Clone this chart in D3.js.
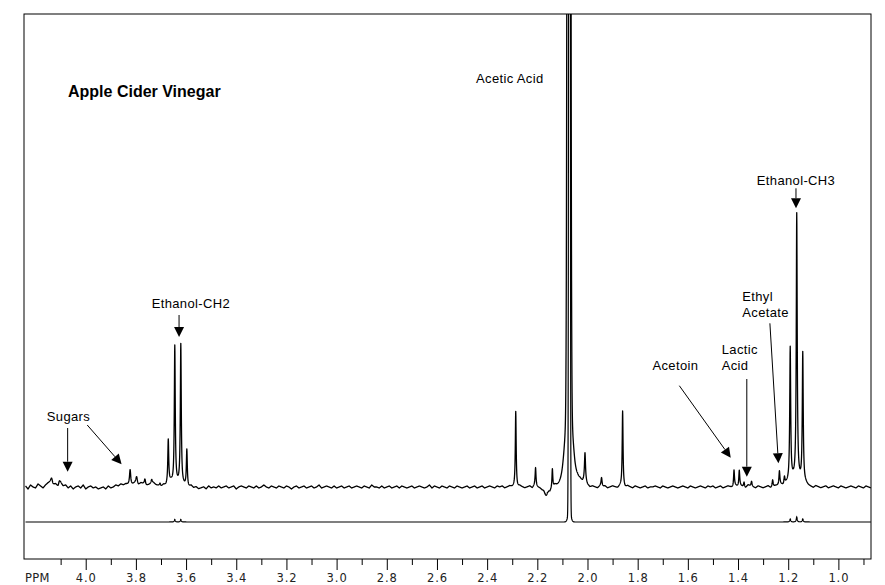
<!DOCTYPE html>
<html>
<head>
<meta charset="utf-8">
<script src="https://cdn.jsdelivr.net/npm/d3@7"></script>
<style>
  body { margin: 0; background: #fff; }
  text { font-family: "Liberation Sans", Arial, sans-serif; }
</style>
</head>
<body>
<div id="chart"></div>
<script>
// ---- data ----
// upper (vertically expanded) spectrum: peak position (ppm), height, half width (ppm), line shape
const peakPpm    = [4.136, 4.105, 3.823, 3.797, 3.764, 3.737, 3.704,
                    3.671, 3.645, 3.621, 3.597,
                    2.286, 2.207, 2.163, 2.140, 2.074, 2.074, 2.074, 2.010, 1.944, 1.860,
                    1.416, 1.395, 1.376, 1.346,
                    1.262, 1.235, 1.215,
                    1.192, 1.166, 1.142];
const peakHeight = [5, 4, 16, 6, 6, 4, 3,
                    44, 138, 141, 37,
                    76, 18, -9, 20, 4300, 80, 10, 28, 9, 76,
                    17, 16, 5, 5,
                    7, 14, 7,
                    133, 266, 129];
const peakWidth  = [0.004, 0.004, 0.003, 0.003, 0.003, 0.003, 0.003,
                    0.0022, 0.0022, 0.0022, 0.0022,
                    0.002, 0.002, 0.006, 0.002, 0.004, 0.014, 0.025, 0.0025, 0.0025, 0.002,
                    0.0022, 0.0022, 0.0022, 0.0022,
                    0.0022, 0.0022, 0.0022,
                    0.0022, 0.0022, 0.0022];
const peakShape  = ["L","L","L","L","L","L","L",
                    "L","L","L","L",
                    "L","L","G","L","G","G","G","L","L","L",
                    "L","L","L","L",
                    "L","L","L",
                    "L","L","L"];

// baseline wiggle of the upper spectrum, every 0.01 ppm from 4.24 down to 0.87
const noiseStart = 4.24;
const noiseStep = 0.01;
const baseNoise = [
  1,-2,2,0,-1,3,1,-1,2,4,     5,2,3,0,4,1,2,-1,1,-2,
  0,1,-1,2,-2,0,1,-1,0,-2,    -1,0,-2,1,-1,0,2,1,3,2,
  3,2,1,3,5,2,4,3,1,2,        3,4,2,1,0,2,1,3,5,2,
  3,2,1,1,0,-1,1,-1,0,-2,     -1,0,-2,1,-1,0,-1,1,-1,0,
  1,-1,0,1,-2,0,1,0,-1,1,     0,-1,1,-1,0,2,0,-1,1,0,
  -1,1,0,-1,1,0,-2,0,1,-1,    0,1,-1,0,1,-1,0,2,-1,0,
  1,0,-1,1,-1,0,1,-1,0,1,     -1,0,1,0,-1,1,0,-1,2,0,
  0,-1,1,-1,0,1,-1,0,1,-1,    1,0,-1,0,1,-1,0,1,0,-1,
  0,2,-1,1,0,-1,1,0,-1,1,     0,-1,1,0,-1,0,1,-1,0,1,
  -1,0,1,-1,0,1,0,-1,1,0,     1,-1,0,1,0,0,-1,1,0,-1,
  0,1,-1,2,0,-1,-3,-2,2,-4,   -2,2,1,1,0,0,0,0,0,1,
  6,7,5,6,2,0,1,0,-1,1,       0,1,-1,0,1,0,-1,1,0,-1,
  1,0,-1,1,0,-1,0,1,-1,0,     0,1,0,-1,1,0,-1,0,1,0,
  -1,0,1,0,-1,1,0,-1,0,1,     0,-1,1,0,1,-1,0,1,-1,0,
  1,0,-1,1,0,1,0,-1,2,1,      0,-1,1,0,-1,0,1,-1,0,1,
  1,2,1,3,4,6,7,6,7,5,        4,3,1,0,-1,1,0,-1,0,1,
  -1,0,1,0,-1,1,0,-1,0,1,     0,-1,1,0,-1,1,0,-1
];

// lower (full scale) spectrum
const lowerPpm    = [3.645, 3.621, 2.072, 2.072, 1.192, 1.166, 1.142];
const lowerHeight = [2.5, 2.5, 3000, 10, 3, 5, 3];
const lowerWidth  = [0.002, 0.002, 0.002, 0.006, 0.002, 0.002, 0.002];
const lowerShape  = ["L", "L", "G", "G", "L", "L", "L"];

// axis
const majorTicks = [4.0, 3.8, 3.6, 3.4, 3.2, 3.0, 2.8, 2.6, 2.4, 2.2, 2.0, 1.8, 1.6, 1.4, 1.2, 1.0];
const minorTicks = [4.1, 3.9, 3.7, 3.5, 3.3, 3.1, 2.9, 2.7, 2.5, 2.3, 2.1, 1.9, 1.7, 1.5, 1.3, 1.1, 0.9];

// ---- layout ----
const W = 885, H = 585;
const frame = { left: 24, right: 871, top: 14, bottom: 559 };

const svg = d3.select("#chart")
  .append("svg")
  .attr("width", W)
  .attr("height", H);

const x = d3.scaleLinear()
  .domain([4.246, 0.870])
  .range([frame.left, frame.right]);

const yUpper = d3.scaleLinear().domain([0, 473]).range([487, frame.top]);
const yLower = d3.scaleLinear().domain([0, 508]).range([522, frame.top]);

svg.append("clipPath")
  .attr("id", "plot-clip")
  .append("rect")
  .attr("x", frame.left)
  .attr("y", frame.top)
  .attr("width", frame.right - frame.left)
  .attr("height", frame.bottom - frame.top);

function lineShape(shape, d, w) {
  if (shape === "G") return Math.exp(-(d * d) / (2 * w * w));
  return (w * w) / (w * w + d * d);
}

function noiseAt(ppm) {
  const t = (noiseStart - ppm) / noiseStep;
  const i = Math.max(0, Math.min(baseNoise.length - 1, Math.floor(t)));
  const j = Math.min(baseNoise.length - 1, i + 1);
  const f = t - i;
  return baseNoise[i] * (1 - f) + baseNoise[j] * f;
}

function buildTrace(ppms, heights, widths, shapes, withNoise) {
  const pts = [];
  for (let ppm = 4.24; ppm >= 0.87; ppm -= 0.0005) {
    let v = withNoise ? noiseAt(ppm) : 0;
    for (let k = 0; k < ppms.length; k++) {
      v += heights[k] * lineShape(shapes[k], ppm - ppms[k], widths[k]);
    }
    pts.push([ppm, v]);
  }
  return pts;
}

const upperTrace = buildTrace(peakPpm, peakHeight, peakWidth, peakShape, true);
const lowerTrace = buildTrace(lowerPpm, lowerHeight, lowerWidth, lowerShape, false);

const plot = svg.append("g").attr("clip-path", "url(#plot-clip)");

plot.append("path")
  .datum(lowerTrace)
  .attr("fill", "none")
  .attr("stroke", "#000")
  .attr("stroke-width", 1.2)
  .attr("d", d3.line().x(d => x(d[0])).y(d => yLower(d[1])));

plot.append("path")
  .datum(upperTrace)
  .attr("fill", "none")
  .attr("stroke", "#000")
  .attr("stroke-width", 1.3)
  .attr("stroke-linejoin", "round")
  .attr("d", d3.line().x(d => x(d[0])).y(d => yUpper(d[1])));

// frame
svg.append("rect")
  .attr("x", frame.left)
  .attr("y", frame.top)
  .attr("width", frame.right - frame.left)
  .attr("height", frame.bottom - frame.top)
  .attr("fill", "none")
  .attr("stroke", "#000")
  .attr("stroke-width", 1);

// axes
const majorAxis = d3.axisBottom(x)
  .tickValues(majorTicks)
  .tickSize(11)
  .tickPadding(4)
  .tickFormat(d3.format(".1f"));

const minorAxis = d3.axisBottom(x)
  .tickValues(minorTicks)
  .tickSize(6)
  .tickFormat("");

const gMajor = svg.append("g")
  .attr("transform", "translate(0," + frame.bottom + ")")
  .call(majorAxis);
gMajor.select(".domain").remove();
gMajor.selectAll("text")
  .style("font-family", "'DejaVu Sans', sans-serif")
  .style("font-size", "11.5px")
  .style("letter-spacing", "0.9px")
  .attr("fill", "#222");

const gMinor = svg.append("g")
  .attr("transform", "translate(0," + frame.bottom + ")")
  .call(minorAxis);
gMinor.select(".domain").remove();

svg.append("text")
  .attr("x", 25)
  .attr("y", 582)
  .style("font-family", "'DejaVu Sans', sans-serif")
  .style("font-size", "11.5px")
  .style("letter-spacing", "0.3px")
  .attr("fill", "#222")
  .text("PPM");

// title
svg.append("text")
  .attr("x", 68)
  .attr("y", 96.5)
  .style("font-size", "16px")
  .style("font-weight", "bold")
  .text("Apple Cider Vinegar");

// annotations (x in ppm, y in px)
const labels = [
  { lines: ["Acetic Acid"], ppm: 2.444, y: [83] },
  { lines: ["Ethanol-CH2"], ppm: 3.737, y: [307.5] },
  { lines: ["Sugars"], ppm: 4.155, y: [420.5] },
  { lines: ["Acetoin"], ppm: 1.741, y: [370] },
  { lines: ["Lactic", "Acid"], ppm: 1.465, y: [353.5, 369.5] },
  { lines: ["Ethyl", "Acetate"], ppm: 1.383, y: [300.5, 317] },
  { lines: ["Ethanol-CH3"], ppm: 1.325, y: [184.5] }
];

labels.forEach(l => {
  l.lines.forEach((t, i) => {
    svg.append("text")
      .attr("x", x(l.ppm))
      .attr("y", l.y[i])
      .style("font-size", "13px")
      .style("letter-spacing", "0.35px")
      .text(t);
  });
});

const arrows = [
  { from: [4.072, 428], to: [4.072, 471.7] },
  { from: [3.994, 425], to: [3.857, 464.3] },
  { from: [3.628, 315], to: [3.628, 337] },
  { from: [1.634, 385.7], to: [1.429, 457.7] },
  { from: [1.365, 379], to: [1.365, 476.7] },
  { from: [1.273, 323.3], to: [1.239, 463.3] },
  { from: [1.169, 188.3], to: [1.169, 208.3] }
];

arrows.forEach(a => {
  const x1 = x(a.from[0]), y1 = a.from[1];
  const x2 = x(a.to[0]), y2 = a.to[1];
  const len = Math.hypot(x2 - x1, y2 - y1);
  const ux = (x2 - x1) / len, uy = (y2 - y1) / len;
  const hl = 10, hw = 5;
  const bx = x2 - ux * hl, by = y2 - uy * hl;
  svg.append("line")
    .attr("x1", x1).attr("y1", y1)
    .attr("x2", bx).attr("y2", by)
    .attr("stroke", "#000")
    .attr("stroke-width", 1);
  svg.append("path")
    .attr("d", "M" + x2 + "," + y2 +
               "L" + (bx - uy * hw) + "," + (by + ux * hw) +
               "L" + (bx + uy * hw) + "," + (by - ux * hw) + "Z")
    .attr("fill", "#000");
});
</script>
</body>
</html>
